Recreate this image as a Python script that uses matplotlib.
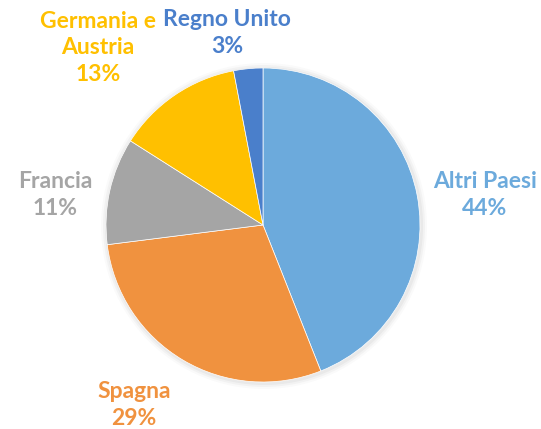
import numpy as np
import matplotlib.pyplot as plt
from matplotlib.patches import Circle

# ----------------------------- Dati ----------------------------- #
paesi = ["Altri Paesi", "Spagna", "Francia", "Germania e\nAustria", "Regno Unito"]
quote = [44, 29, 11, 13, 3]
colori = ["#6CAADC", "#F0923F", "#A5A5A5", "#FFC000", "#4A7FCB"]

# posizioni delle etichette (pixel, origine in basso a sinistra)
pos_etichette = [(485, 234), (134, 24), (55, 234), (98, 381), (227, 396)]

# ----------------------------- Grafico ----------------------------- #
fig = plt.figure(figsize=(5.41, 4.29), dpi=100)
ax = fig.add_axes([0, 0, 1, 1])

centro = (263, 204)
raggio = 157

# ombra leggera attorno alla torta
for k, a in zip([6, 4, 2], [0.04, 0.06, 0.08]):
    ax.add_patch(Circle((centro[0] + 1, centro[1] - 1), raggio + k,
                        color="gray", alpha=a, lw=0, zorder=0))

ax.pie(quote, colors=colori, startangle=90, counterclock=False,
       center=centro, radius=raggio, frame=True,
       wedgeprops=dict(linewidth=0.5, edgecolor="white"))
ax.set_xlim(0, 541)
ax.set_ylim(0, 429)
ax.set_aspect("equal")
ax.axis("off")

for nome, q, col, (x, y) in zip(paesi, quote, colori, pos_etichette):
    ax.text(x, y, f"{nome}\n{q}%", color=col, ha="center", va="center",
            fontsize=16.5, fontweight="bold", family="Lato", linespacing=1.3)

fig.savefig("out.png", dpi=100)
